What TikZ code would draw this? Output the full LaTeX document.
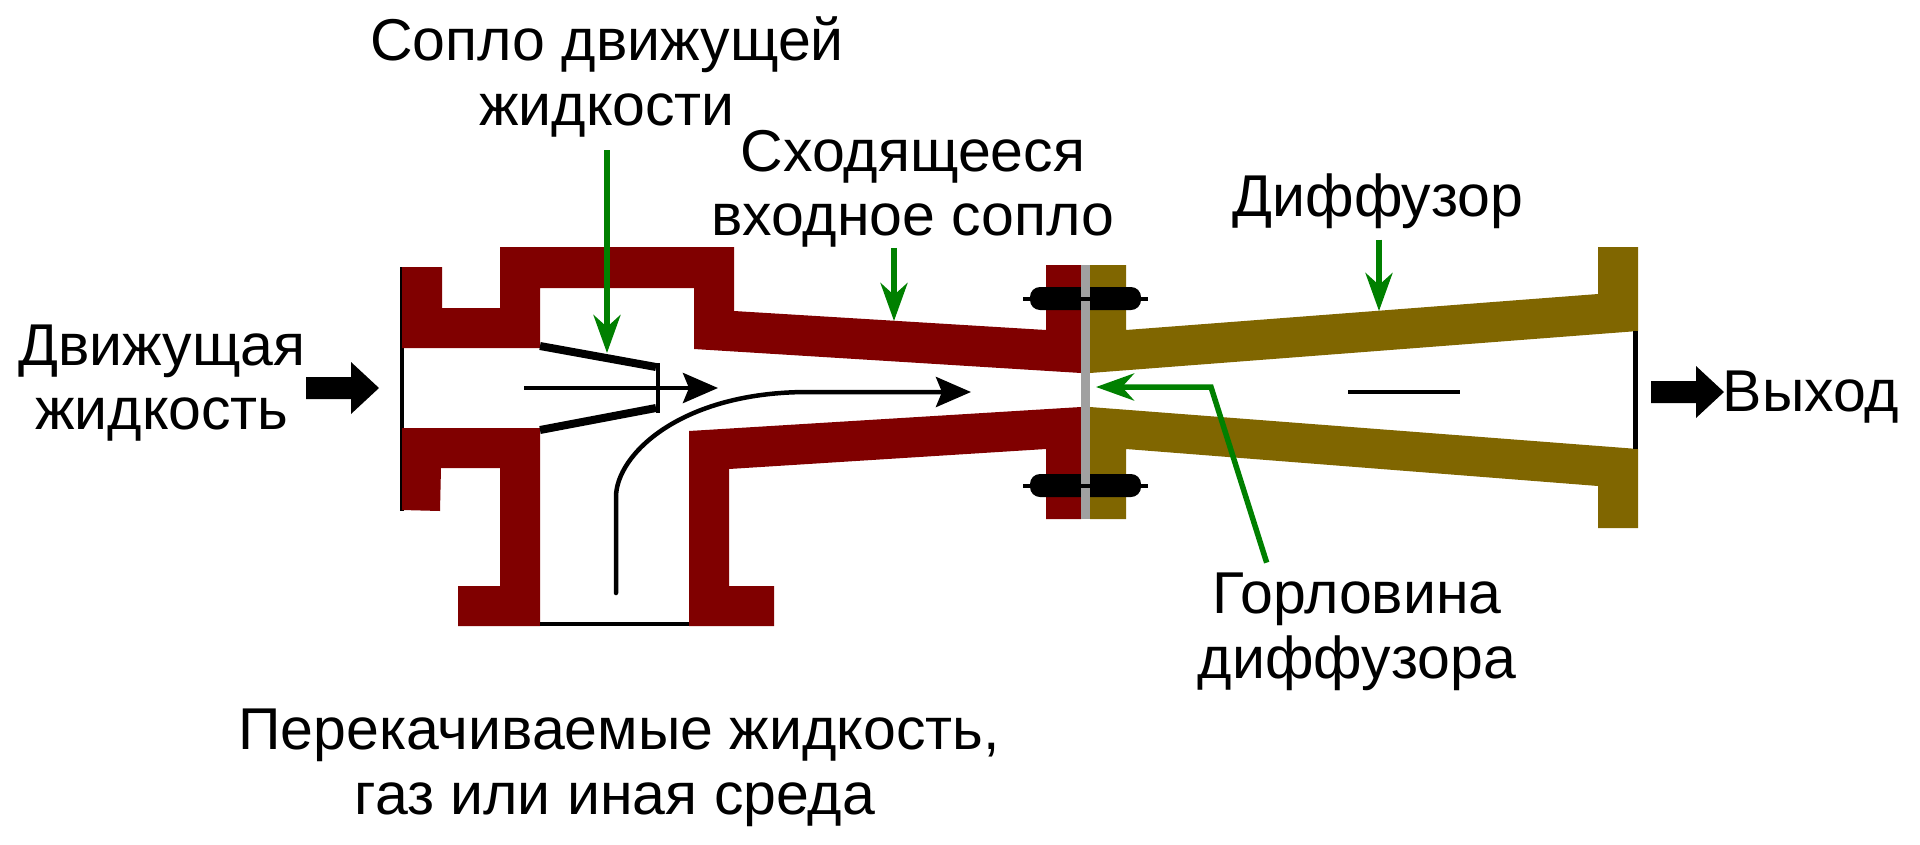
\documentclass[tikz,border=0pt]{standalone}
\usepackage{fontspec}
\setmainfont{Liberation Sans}
\usetikzlibrary{arrows.meta}
\definecolor{pipered}{HTML}{800000}
\definecolor{pipeolive}{HTML}{806600}
\definecolor{pointergreen}{HTML}{008000}
\definecolor{gasketgray}{HTML}{A0A0A0}
\begin{document}
\begin{tikzpicture}[x=1pt, y=-1pt,
    caption/.style={font=\fontsize{59}{64.5}\selectfont, align=center, inner sep=0pt},
    pointer/.style={draw=pointergreen, line width=5.5pt, -{Stealth[length=38pt, width=27pt, inset=12pt, fill=pointergreen]}},
    flow/.style={line width=4.5pt, -{Stealth[length=35pt, width=30pt, inset=6pt]}},
    thin wall/.style={line width=4.5pt}]
  \useasboundingbox (0,0) rectangle (1920,844);
  \draw[thin wall] (402,267) -- (402,511);
  \fill[pipered] (402,267) -- (442,267) -- (442,308) -- (500,308) -- (500,247) -- (734,247) -- (734,311)
    -- (1046,330) -- (1046,265) -- (1081,265) -- (1081,373) -- (694,349) -- (694,288) -- (540,288) -- (540,348) -- (402,348) -- cycle;
  \fill[pipered] (402,428) -- (540,428) -- (540,626) -- (458,626) -- (458,586) -- (500,586) -- (500,468) -- (441,468)
    -- (440,511) -- (402,510) -- cycle;
  \fill[pipered] (689,431) -- (1081,407) -- (1081,519) -- (1046,519) -- (1046,449) -- (729,469) -- (729,586) -- (774,586)
    -- (774,626) -- (689,626) -- cycle;
  \fill[pipeolive] (1090,373) -- (1090,265) -- (1126,265) -- (1126,330) -- (1598,294) -- (1598,247) -- (1638,247) -- (1638,331) -- cycle;
  \fill[pipeolive] (1090,407) -- (1638,449) -- (1638,528) -- (1598,528) -- (1598,486) -- (1126,449) -- (1126,519) -- (1090,519) -- cycle;
  \foreach \y in {299,486} {
    \fill[rounded corners=10pt] (1030,\y-12) rectangle (1141,\y+11);
  }
  \fill[gasketgray] (1081,265) rectangle (1090,519);
  \foreach \y in {299,486} {
    \draw[line width=4.5pt] (1023,\y) -- (1148,\y);
  }
  \draw[thin wall] (540,624) -- (689,624);
  \draw[thin wall] (1635.7,331) -- (1635.7,449);
  \draw[thin wall] (1348,392) -- (1460,392);
  \draw[line width=8pt] (540,346) -- (656,367);
  \draw[line width=8pt] (540,430) -- (656,408);
  \draw[line width=4.5pt] (658,363) -- (658,413);
  \coordinate (jetstart) at (524,388);
  \coordinate (jetend) at (718,388);
  \coordinate (suctionstart) at (616,593);
  \coordinate (suctionend) at (971,392);
  \draw[flow] (jetstart) -- (jetend);
  \draw[flow, line cap=round] (suctionstart) -- (616,497) .. controls (616,455) and (680,392) .. (808,392) -- (suctionend);
  \fill (306,377) -- (351,377) -- (351,362) -- (379,388) -- (351,414) -- (351,399) -- (306,399) -- cycle;
  \fill (1651,381) -- (1696,381) -- (1696,366) -- (1724,392) -- (1696,418) -- (1696,403) -- (1651,403) -- cycle;
  \node[caption] (nozzlelabel) at (607,77) {Сопло движущей\\жидкости};
  \node[caption] (inletlabel) at (913,189) {Сходящееся\\входное сопло};
  \node[caption] (diffuserlabel) at (1378,201) {Диффузор};
  \node[caption] (drivelabel) at (162,383) {Движущая\\жидкость};
  \node[caption] (outlabel) at (1811,397) {Выход};
  \node[caption] (throatlabel) at (1357,632) {Горловина\\диффузора};
  \node[caption] (pumpedlabel) at (619,768) {Перекачиваемые жидкость,\\газ или иная среда\hspace*{8pt}};
  \coordinate (nozzletip) at (607,353);
  \coordinate (inlettip) at (894,321);
  \coordinate (diffusertip) at (1379,311);
  \coordinate (throatbend) at (1211,387);
  \coordinate (throattip) at (1096,387);
  \draw[pointer, shorten <=13pt] (nozzlelabel.south -| nozzletip) -- (nozzletip);
  \draw[pointer] (inletlabel.south -| inlettip) -- (inlettip);
  \draw[pointer, shorten <=11pt] (diffuserlabel.south -| diffusertip) -- (diffusertip);
  \draw[pointer, shorten <=11pt] (throatlabel.north -| 1270,0) -- (throatbend) -- (throattip);
\end{tikzpicture}
\end{document}
